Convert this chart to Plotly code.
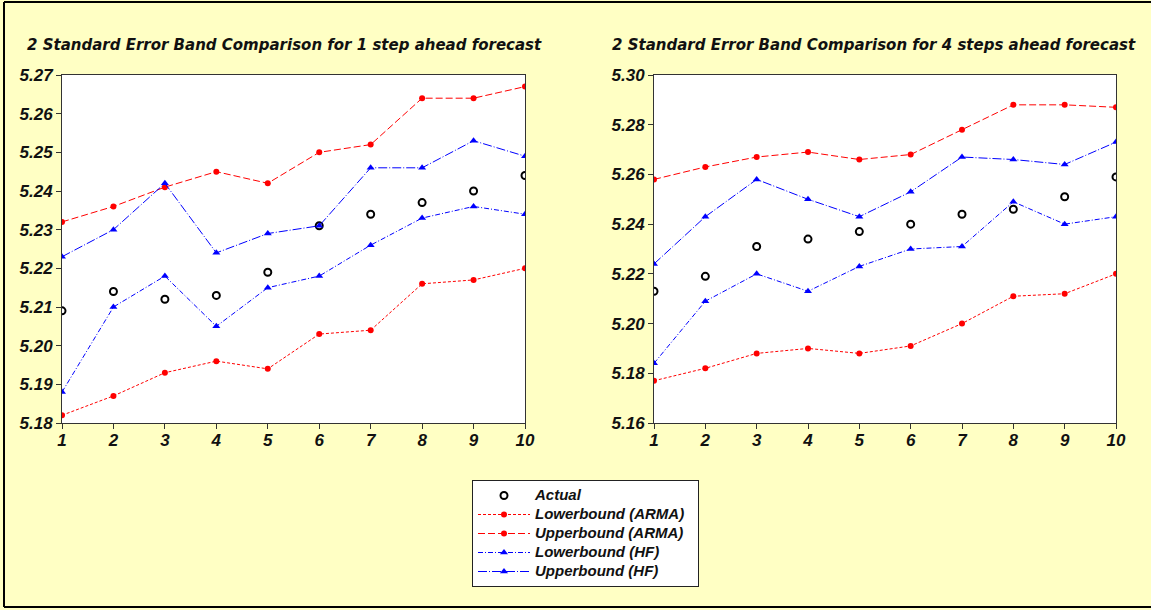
import plotly.graph_objects as go

steps = [1, 2, 3, 4, 5, 6, 7, 8, 9, 10]

# 1 step ahead forecast
actual_1 = [5.209, 5.214, 5.212, 5.213, 5.219, 5.231, 5.234, 5.237, 5.240, 5.244]
lower_arma_1 = [5.182, 5.187, 5.193, 5.196, 5.194, 5.203, 5.204, 5.216, 5.217, 5.220]
upper_arma_1 = [5.232, 5.236, 5.241, 5.245, 5.242, 5.250, 5.252, 5.264, 5.264, 5.267]
lower_hf_1 = [5.188, 5.210, 5.218, 5.205, 5.215, 5.218, 5.226, 5.233, 5.236, 5.234]
upper_hf_1 = [5.223, 5.230, 5.242, 5.224, 5.229, 5.231, 5.246, 5.246, 5.253, 5.249]

# 4 steps ahead forecast
actual_4 = [5.213, 5.219, 5.231, 5.234, 5.237, 5.240, 5.244, 5.246, 5.251, 5.259]
lower_arma_4 = [5.177, 5.182, 5.188, 5.190, 5.188, 5.191, 5.200, 5.211, 5.212, 5.220]
upper_arma_4 = [5.258, 5.263, 5.267, 5.269, 5.266, 5.268, 5.278, 5.288, 5.288, 5.287]
lower_hf_4 = [5.184, 5.209, 5.220, 5.213, 5.223, 5.230, 5.231, 5.249, 5.240, 5.243]
upper_hf_4 = [5.224, 5.243, 5.258, 5.250, 5.243, 5.253, 5.267, 5.266, 5.264, 5.273]

titles = ["2 Standard Error Band Comparison for 1 step ahead forecast",
          "2 Standard Error Band Comparison for 4 steps ahead forecast"]
series_names = ["Actual", "Lowerbound (ARMA)", "Upperbound (ARMA)",
                "Lowerbound (HF)", "Upperbound (HF)"]

W, H = 1151, 610
BG = "#FFFFC4"
RED = "#FF0000"
BLUE = "#0000FF"
TICKFONT = dict(family="Liberation Sans", size=17, color="#111111")


def bi(s):
    return "<b><i>" + s + "</i></b>"


def leg(s):
    return "<span style='font-size:15px'><b><i>" + s + "</i></b>&nbsp;&nbsp;</span>"


fig = go.Figure()

panels = [
    (actual_1, lower_arma_1, upper_arma_1, lower_hf_1, upper_hf_1, "x", "y"),
    (actual_4, lower_arma_4, upper_arma_4, lower_hf_4, upper_hf_4, "x2", "y2"),
]

for i, (act, la, ua, lh, uh, xa, ya) in enumerate(panels):
    show = i == 0
    fig.add_trace(go.Scatter(
        x=steps, y=act, mode="markers", name=leg(series_names[0]), showlegend=show,
        marker=dict(symbol="circle-open", size=7, color="black", line=dict(width=2)),
        xaxis=xa, yaxis=ya))
    fig.add_trace(go.Scatter(
        x=steps, y=la, mode="lines+markers", name=leg(series_names[1]), showlegend=show,
        line=dict(color=RED, width=1, dash="3px,2px"),
        marker=dict(symbol="circle", size=6, color=RED),
        xaxis=xa, yaxis=ya))
    fig.add_trace(go.Scatter(
        x=steps, y=ua, mode="lines+markers", name=leg(series_names[2]), showlegend=show,
        line=dict(color=RED, width=1, dash="7px,3px"),
        marker=dict(symbol="circle", size=6, color=RED),
        xaxis=xa, yaxis=ya))
    fig.add_trace(go.Scatter(
        x=steps, y=lh, mode="lines+markers", name=leg(series_names[3]), showlegend=show,
        line=dict(color=BLUE, width=1, dash="5px,2px,1px,2px"),
        marker=dict(symbol="triangle-up", size=7, color=BLUE),
        xaxis=xa, yaxis=ya))
    fig.add_trace(go.Scatter(
        x=steps, y=uh, mode="lines+markers", name=leg(series_names[4]), showlegend=show,
        line=dict(color=BLUE, width=1, dash="9px,2px,1px,2px"),
        marker=dict(symbol="triangle-up", size=7, color=BLUE),
        xaxis=xa, yaxis=ya))

ydom = [(H - 423) / H, (H - 75) / H]
axis_common = dict(showline=True, linecolor="#333333", linewidth=1, mirror=True,
                   ticks="outside", ticklen=5, tickcolor="#333333", showgrid=False,
                   zeroline=False, tickfont=TICKFONT, automargin=False,
                   tickprefix="<i><b>", ticksuffix="</b></i>")

fig.update_layout(
    width=W, height=H,
    margin=dict(l=0, r=0, t=0, b=0),
    paper_bgcolor=BG, plot_bgcolor="white",
    xaxis=dict(domain=[62 / W, 525 / W], range=[1, 10], dtick=1, tick0=1,
               anchor="y", ticklabelstandoff=-3, **axis_common),
    yaxis=dict(domain=ydom, range=[5.18, 5.27], dtick=0.01, tick0=5.18, tickformat=".2f",
               anchor="x", **axis_common),
    xaxis2=dict(domain=[654 / W, 1116 / W], range=[1, 10], dtick=1, tick0=1,
                anchor="y2", ticklabelstandoff=-3, **axis_common),
    yaxis2=dict(domain=ydom, range=[5.16, 5.30], dtick=0.02, tick0=5.16, tickformat=".2f",
                anchor="x2", **axis_common),
    showlegend=True,
    legend=dict(x=472 / W, y=(H - 480) / H, xanchor="left", yanchor="top",
                bgcolor="white", bordercolor="#222222", borderwidth=1,
                font=dict(family="Liberation Sans", size=12, color="#111111"),
                itemwidth=52, tracegroupgap=0),
)

for title, cx in zip(titles, [284 / W, 874 / W]):
    fig.add_annotation(text=bi(title), x=cx, y=(H - 45) / H,
                       xref="paper", yref="paper", xanchor="center", yanchor="middle",
                       showarrow=False,
                       font=dict(family="DejaVu Sans", size=15, color="#111111"))

# outer frame (left, top, bottom)
frame = dict(type="line", xref="paper", yref="paper", line=dict(color="black", width=2))
fig.add_shape(x0=4 / W, x1=4 / W, y0=(H - 2) / H, y1=(H - 607) / H, **frame)
fig.add_shape(x0=4 / W, x1=1, y0=(H - 2) / H, y1=(H - 2) / H, **frame)
fig.add_shape(x0=4 / W, x1=1, y0=(H - 607) / H, y1=(H - 607) / H, **frame)

fig.write_html("out.html",
               post_script="document.body.style.margin='0';"
                           "document.documentElement.style.overflow='hidden';")
